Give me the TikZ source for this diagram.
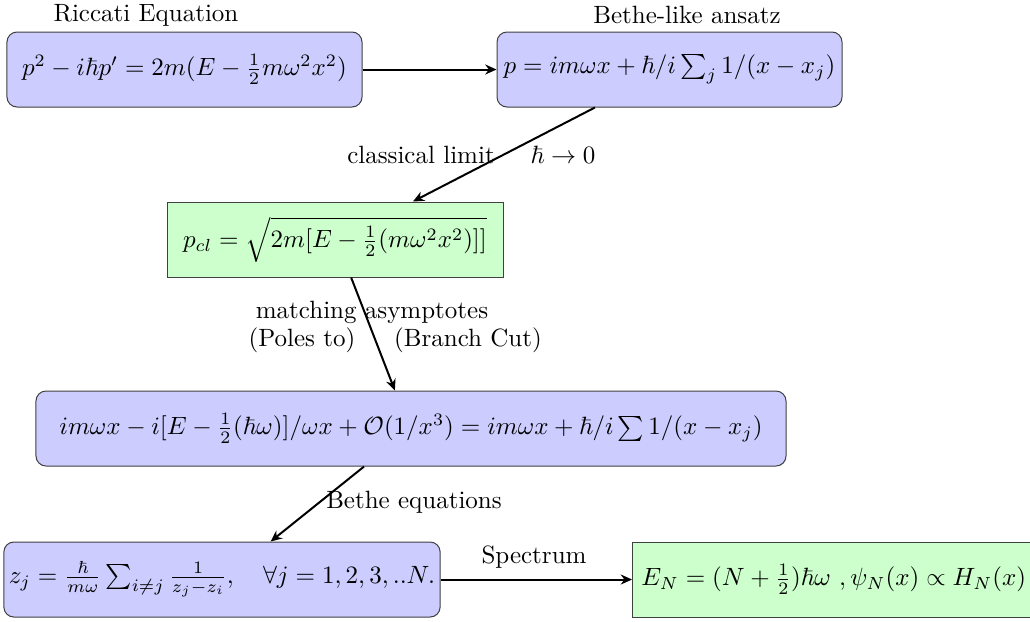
\documentclass[tikz,border=0pt]{standalone}
\usepackage{amsmath,amssymb}
\usepackage{tikz}
\usetikzlibrary{positioning,arrows.meta}

\begin{document}
\begin{tikzpicture}[x=0.4pt,y=-0.4pt,>={Stealth[length=4.5pt,width=4pt]},
  bluebox/.style={draw=black!75,fill=blue!20,rounded corners=4pt,minimum height=30pt,inner sep=2pt},
  greenbox/.style={draw=black!75,fill=green!20,minimum height=30pt,inner sep=2pt},
  flow/.style={->,thick}]
  \useasboundingbox (0,0) rectangle (1030,621);

  \node[bluebox,minimum width=142pt] (ricc) at (184.5,69.5) {$p^2 - i\hbar p' = 2m(E - \frac{1}{2}m\omega^2x^2)$};
  \node[bluebox,minimum width=138pt] (ansatz) at (669.5,69.5) {$p = im\omega x + \hbar/i\sum_j 1/(x-x_j)$};
  \node[greenbox,minimum width=134.4pt] (clas) at (335,239.5) {$p_{cl} = \sqrt{2m[E - \frac{1}{2}(m\omega^2x^2)]]}$};
  \node[bluebox,minimum width=300pt] (match) at (411,428.5) {$im\omega x - i[E - \frac{1}{2}(\hbar\omega)]/\omega x + \mathcal{O}(1/x^3) = im\omega x + \hbar/i\sum 1/(x-x_j)$};
  \node[bluebox,minimum width=172pt] (bethe) at (222,579.5) {$z_j = \frac{\hbar}{m\omega}\sum_{i\neq j}\frac{1}{z_j-z_i}, \quad \forall j = 1,2,3,..N.$};
  \node[greenbox,minimum width=161pt,anchor=west] (spec) at (632,579.5) {$E_N = (N + \frac{1}{2})\hbar\omega\ , \psi_N(x) \propto H_N(x)$};

  % titles
  \node (riccti) at (146,15) {Riccati Equation};
  \node (ansti) at (687,15) {Bethe-like ansatz};

  \draw[flow] (ricc) -- (ansatz);
  \draw[flow] (ansatz.207) -- (clas.26);
  \draw[flow] (clas.-67) -- (match.113);
  \draw[flow] (match.219) -- (bethe.38);
  \draw[flow] (bethe) -- (spec);

  % edge labels
  \node (cl) at (421,155) {classical limit};
  \node (hb) at (563,155) {$\hbar\to 0$};
  \node (ma) at (372,312) {matching asymptotes};
  \node (po) at (302,340) {(Poles to)};
  \node (bc) at (468,340) {(Branch Cut)};
  \node (be) at (414,502) {Bethe equations};
  \node (sp) at (534,557) {Spectrum};
\end{tikzpicture}
\end{document}
